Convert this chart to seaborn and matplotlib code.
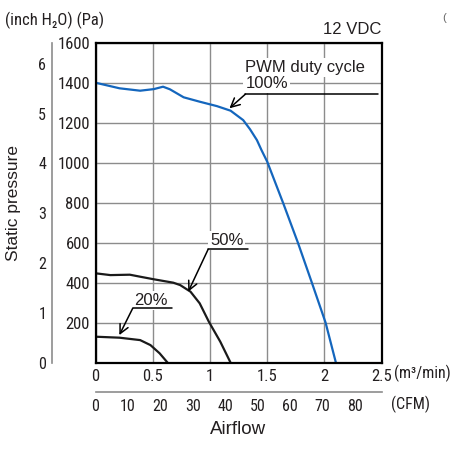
import numpy as np
import pandas as pd
import matplotlib
matplotlib.use("Agg")
import matplotlib.pyplot as plt
import seaborn as sns

# ---------------- data ----------------
airflow_100 = [0, 0.21, 0.39, 0.51, 0.59, 0.65, 0.77, 0.91, 1.06, 1.18, 1.29, 1.35, 1.41, 1.45, 1.50, 1.64, 1.77, 1.89, 2.01, 2.10]
pressure_100 = [1400, 1372, 1360, 1368, 1380, 1367, 1327, 1305, 1283, 1260, 1213, 1167, 1113, 1063, 1005, 797, 597, 400, 200, 0]

airflow_50 = [0, 0.13, 0.30, 0.39, 0.51, 0.68, 0.74, 0.83, 0.91, 0.99, 1.09, 1.18]
pressure_50 = [447, 438, 440, 430, 417, 400, 388, 355, 297, 205, 105, 0]

airflow_20 = [0, 0.21, 0.39, 0.48, 0.56, 0.63]
pressure_20 = [130, 125, 113, 88, 47, 0]

x_ticks = [0, 0.5, 1, 1.5, 2, 2.5]
x_tick_labels = ["0", "0.5", "1", "1.5", "2", "2.5"]
pa_ticks = [0, 200, 400, 600, 800, 1000, 1200, 1400, 1600]
pa_tick_labels = ["", "200", "400", "600", "800", "1000", "1200", "1400", "1600"]
inch_ticks = [0, 1, 2, 3, 4, 5, 6]
cfm_ticks = [0, 10, 20, 30, 40, 50, 60, 70, 80]

PA_PER_INCH = 249.089
CFM_PER_M3MIN = 35.3147

df = pd.concat([
    pd.DataFrame({"airflow": airflow_100, "pressure": pressure_100, "duty": "100%"}),
    pd.DataFrame({"airflow": airflow_50, "pressure": pressure_50, "duty": "50%"}),
    pd.DataFrame({"airflow": airflow_20, "pressure": pressure_20, "duty": "20%"}),
], ignore_index=True)

# ---------------- style ----------------
sns.set_style("white")
plt.rcParams["font.family"] = ["Liberation Sans", "DejaVu Sans"]
NARROW = ["Roboto Condensed", "Liberation Sans", "DejaVu Sans"]
TXT = "#231f20"
GRID = "#8c8c8c"
AXG = "#8c8c8c"

W, H = 451, 450
fig = plt.figure(figsize=(W / 100, H / 100), dpi=100)

left, right, top, bottom = 95.5, 381.7, 42.7, 362.7
pos = [left / W, 1 - bottom / H, (right - left) / W, (bottom - top) / H]

# secondary axes (inch H2O on left, CFM below)
ax_in = fig.add_axes(pos)
ax_in.patch.set_visible(False)
for s in ["top", "right", "bottom"]:
    ax_in.spines[s].set_visible(False)
ax_in.spines["left"].set_position(("outward", 31.5))
ax_in.spines["left"].set_color(AXG)
ax_in.spines["left"].set_linewidth(1.2)
ax_in.set_ylim(0, 1600 / PA_PER_INCH)
ax_in.set_yticks(inch_ticks)
ax_in.set_yticklabels([str(t) for t in inch_ticks], family=NARROW, fontsize=11.5, color=TXT)
ax_in.tick_params(axis="y", direction="in", length=4, width=1.1, color=AXG, pad=4)
ax_in.set_xticks([])

ax_c = fig.add_axes(pos)
ax_c.patch.set_visible(False)
for s in ["top", "right", "left"]:
    ax_c.spines[s].set_visible(False)
ax_c.spines["bottom"].set_position(("outward", 21))
ax_c.spines["bottom"].set_color(AXG)
ax_c.spines["bottom"].set_linewidth(1.2)
ax_c.set_xlim(0, 2.5 * CFM_PER_M3MIN)
ax_c.set_xticks(cfm_ticks)
ax_c.set_xticklabels([str(t) for t in cfm_ticks], family=NARROW, fontsize=11.5, color=TXT)
ax_c.tick_params(axis="x", direction="in", length=4, width=1.1, color=AXG, pad=5)
ax_c.set_yticks([])

# main axes
ax = fig.add_axes(pos)
ax.patch.set_visible(False)
sns.lineplot(data=df, x="airflow", y="pressure", hue="duty",
             palette={"100%": "#1466bd", "50%": "#1a1a1a", "20%": "#1a1a1a"},
             estimator=None, legend=False, linewidth=1.6, ax=ax, zorder=5)
ax.set_xlim(0, 2.5)
ax.set_ylim(0, 1600)
ax.set_xticks(x_ticks)
ax.set_xticklabels(x_tick_labels, family=NARROW, fontsize=12, color=TXT)
ax.set_yticks(pa_ticks)
ax.set_yticklabels(pa_tick_labels, family=NARROW, fontsize=12, color=TXT)
ax.tick_params(axis="both", length=0)
ax.tick_params(axis="y", pad=4)
ax.tick_params(axis="x", pad=4.5)
ax.set_xlabel("")
ax.set_ylabel("")
ax.grid(True, color=GRID, linewidth=1.0)
ax.set_axisbelow(True)
for s in ax.spines.values():
    s.set_visible(True)
    s.set_color("black")
    s.set_linewidth(1.6)
    s.set_zorder(6)

# ---------------- annotations ----------------
bbox = dict(facecolor="white", edgecolor="none", pad=1.5)
arrow = dict(arrowstyle="->", color="black", lw=1.1, shrinkA=0, shrinkB=0, mutation_scale=16)

# 100%
ax.text(1.31, 1455, "PWM duty cycle", ha="left", va="baseline", fontsize=12, color=TXT, bbox=bbox, zorder=4)
ax.text(1.31, 1372, "100%", ha="left", va="baseline", fontsize=12, color=TXT, bbox=bbox, zorder=4)
ax.plot([1.31, 2.47], [1343, 1343], color="black", lw=1.1, zorder=4)
ax.annotate("", xy=(1.17, 1272), xytext=(1.31, 1343), arrowprops=arrow, zorder=7)

# 50%
ax.text(1.147, 588, "50%", ha="center", va="baseline", fontsize=12, color=TXT, bbox=bbox, zorder=4)
ax.plot([0.984, 1.332], [567, 567], color="black", lw=1.1, zorder=4)
ax.annotate("", xy=(0.81, 355), xytext=(0.984, 567), arrowprops=arrow, zorder=7)

# 20%
ax.text(0.482, 288, "20%", ha="center", va="baseline", fontsize=12, color=TXT, bbox=bbox, zorder=4)
ax.plot([0.325, 0.666], [272, 272], color="black", lw=1.1, zorder=4)
ax.annotate("", xy=(0.208, 138), xytext=(0.325, 272), arrowprops=arrow, zorder=7)

# ---------------- labels ----------------
fig.text(5 / W, 1 - 25 / H, "(inch H\u2082O) (Pa)", family=NARROW, fontsize=12, color=TXT, ha="left", va="baseline")
fig.text(381 / W, 1 - 34.3 / H, "12 VDC", fontsize=12, color=TXT, ha="right", va="baseline")
fig.text(444 / W, 1 - 18 / H, "(", fontsize=8, color="#666666", ha="center", va="center")
fig.text(14 / W, 1 - 203 / H, "Static pressure", fontsize=12.5, color=TXT, rotation=90, ha="center", va="center")
fig.text(238 / W, 1 - 429 / H, "Airflow", fontsize=13.5, color=TXT, ha="center", va="center")
fig.text(394 / W, 1 - 373 / H, "(m\u00b3/min)", family=NARROW, fontsize=11.5, color=TXT, ha="left", va="center")
fig.text(410 / W, 1 - 404 / H, "(CFM)", family=NARROW, fontsize=11.5, color=TXT, ha="center", va="center")

fig.savefig("out.png", dpi=100)
